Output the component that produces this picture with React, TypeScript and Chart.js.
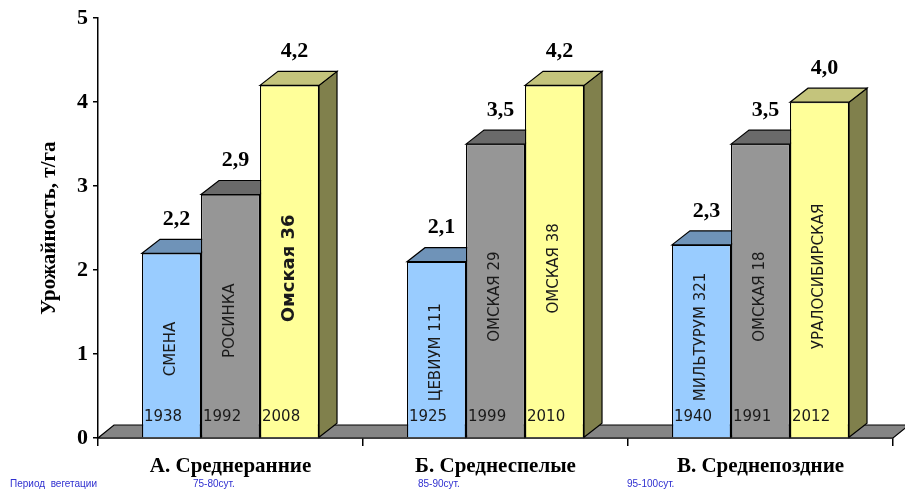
import React, { useEffect, useRef } from "react";
import { Chart, registerables } from "chart.js";

Chart.register(...registerables);

// ---- data ----
const categories = ["А. Среднеранние", "Б. Среднеспелые", "В. Среднепоздние"];
const earlyValues = [2.2, 2.1, 2.3];
const midValues = [2.9, 3.5, 3.5];
const lateValues = [4.2, 4.2, 4.0];
const earlyNames = ["СМЕНА", "ЦЕВИУМ 111", "МИЛЬТУРУМ 321"];
const midNames = ["РОСИНКА", "ОМСКАЯ 29", "ОМСКАЯ 18"];
const lateNames = ["Омская 36", "ОМСКАЯ 38", "УРАЛОСИБИРСКАЯ"];
const earlyYears = ["1938", "1925", "1940"];
const midYears = ["1992", "1999", "1991"];
const lateYears = ["2008", "2010", "2012"];
const periodTitle = "Период  вегетации";
const periods = ["75-80сут.", "85-90сут.", "95-100сут."];
const yTitle = "Урожайность, т/га";
const highlightedName = "Омская 36";

const names = [earlyNames, midNames, lateNames];
const years = [earlyYears, midYears, lateYears];

// ---- styles ----
const FRONT = ["#99ccff", "#969696", "#ffff99"];
const TOP = ["#6f93b8", "#6a6a6a", "#c4c47c"];
const SIDE = ["#5a7a99", "#555555", "#80804c"];
const DX = 18;
const DY = 14;
const FLOOR_DX = 16;
const FLOOR_DY = 13;
const SERIF = "'Liberation Serif', 'Times New Roman', serif";
const SANS = "'DejaVu Sans', Verdana, sans-serif";

const threeD = {
  id: "threeD",
  beforeDatasetsDraw(chart: any) {
    const { ctx, chartArea } = chart;
    const { left, right, bottom } = chartArea;
    ctx.save();
    // floor
    ctx.beginPath();
    ctx.moveTo(left, bottom);
    ctx.lineTo(right, bottom);
    ctx.lineTo(right + FLOOR_DX, bottom - FLOOR_DY);
    ctx.lineTo(left + FLOOR_DX, bottom - FLOOR_DY);
    ctx.closePath();
    ctx.fillStyle = "#858585";
    ctx.fill();
    ctx.strokeStyle = "#000";
    ctx.lineWidth = 1.2;
    ctx.stroke();
    // tops & sides
    chart.data.datasets.forEach((_: any, di: number) => {
      const meta = chart.getDatasetMeta(di);
      meta.data.forEach((bar: any) => {
        const l = bar.x - bar.width / 2;
        const r = bar.x + bar.width / 2;
        const t = bar.y;
        const b = bar.base;
        ctx.lineWidth = 1.2;
        ctx.strokeStyle = "#000";
        ctx.beginPath();
        ctx.moveTo(r, t);
        ctx.lineTo(r + DX, t - DY);
        ctx.lineTo(r + DX, b - DY);
        ctx.lineTo(r, b);
        ctx.closePath();
        ctx.fillStyle = SIDE[di];
        ctx.fill();
        ctx.stroke();
        ctx.beginPath();
        ctx.moveTo(l, t);
        ctx.lineTo(l + DX, t - DY);
        ctx.lineTo(r + DX, t - DY);
        ctx.lineTo(r, t);
        ctx.closePath();
        ctx.fillStyle = TOP[di];
        ctx.fill();
        ctx.stroke();
      });
    });
    ctx.restore();
  },
  afterDatasetsDraw(chart: any) {
    const { ctx } = chart;
    ctx.save();
    chart.data.datasets.forEach((ds: any, di: number) => {
      const meta = chart.getDatasetMeta(di);
      meta.data.forEach((bar: any, i: number) => {
        const v = ds.data[i] as number;
        const l = bar.x - bar.width / 2;
        // value label
        ctx.fillStyle = "#000";
        ctx.font = `bold 22px ${SERIF}`;
        ctx.textAlign = "center";
        ctx.textBaseline = "middle";
        ctx.fillText(v.toFixed(1).replace(".", ","), bar.x + 5, bar.y - 34);
        // variety name (rotated), kept clear of the year label
        const name = names[di][i];
        ctx.font = name === highlightedName ? `bold 18px ${SANS}` : `15px ${SANS}`;
        const w = ctx.measureText(name).width;
        let cy = bar.base - (bar.base - bar.y) * 0.48;
        cy = Math.min(cy, bar.base - 36 - w / 2);
        ctx.save();
        ctx.translate(bar.x, cy);
        ctx.rotate(-Math.PI / 2);
        ctx.fillStyle = "#1a1a1a";
        ctx.textAlign = "center";
        ctx.textBaseline = "middle";
        ctx.fillText(name, 0, 0);
        ctx.restore();
        // year
        ctx.fillStyle = "#1a1a1a";
        ctx.font = `15px ${SANS}`;
        ctx.textAlign = "left";
        ctx.textBaseline = "middle";
        ctx.fillText(years[di][i], l + 2, bar.base - 20);
      });
    });
    ctx.restore();
  },
  afterDraw(chart: any) {
    const { ctx } = chart;
    ctx.save();
    ctx.fillStyle = "#3030d0";
    ctx.font = `10px 'Liberation Sans', Arial, sans-serif`;
    ctx.textAlign = "left";
    ctx.textBaseline = "middle";
    ctx.fillText(periodTitle, 10, 484);
    const px = [193, 418, 627];
    periods.forEach((p, i) => ctx.fillText(p, px[i], 484));
    ctx.restore();
  },
};

export default function App() {
  const ref = useRef<HTMLCanvasElement | null>(null);
  useEffect(() => {
    if (!ref.current) return;
    const chart = new Chart(ref.current, {
      type: "bar",
      data: {
        labels: categories,
        datasets: [
          { data: earlyValues, backgroundColor: FRONT[0], borderColor: "#000", borderWidth: 1.2, categoryPercentage: 0.668, barPercentage: 1 },
          { data: midValues, backgroundColor: FRONT[1], borderColor: "#000", borderWidth: 1.2, categoryPercentage: 0.668, barPercentage: 1 },
          { data: lateValues, backgroundColor: FRONT[2], borderColor: "#000", borderWidth: 1.2, categoryPercentage: 0.668, barPercentage: 1 },
        ],
      },
      options: {
        responsive: false,
        animation: false,
        devicePixelRatio: 1,
        layout: { padding: { top: 17, right: 12, left: 0, bottom: 0 } },
        plugins: { legend: { display: false }, tooltip: { enabled: false } },
        scales: {
          x: {
            grid: { offset: true, drawOnChartArea: false, drawTicks: true, tickLength: 8, color: "#000", lineWidth: 1.5 },
            border: { display: true, color: "#000", width: 1.5 },
            ticks: { font: { family: SERIF, size: 21, weight: "bold" }, color: "#000", padding: 8, maxRotation: 0 },
            afterFit: (s: any) => { s.height = 52; },
          },
          y: {
            min: 0,
            max: 5,
            ticks: { stepSize: 1, font: { family: SERIF, size: 22, weight: "bold" }, color: "#000", padding: 5 },
            grid: { drawOnChartArea: false, drawTicks: true, tickLength: 5, color: "#000", lineWidth: 1.5 },
            border: { display: true, color: "#000", width: 1.5 },
            title: { display: true, text: yTitle, font: { family: SERIF, size: 21, weight: "bold" }, color: "#000", padding: { top: 37, bottom: 0 } },
            afterFit: (s: any) => { s.width = 98; },
          },
        },
      },
      plugins: [threeD],
    } as any);
    return () => chart.destroy();
  }, []);
  return (
    <div style={{ position: "fixed", left: 0, top: 0, width: 905, height: 490, background: "#fff" }}>
      <canvas ref={ref} width={905} height={490} style={{ display: "block" }} />
    </div>
  );
}
